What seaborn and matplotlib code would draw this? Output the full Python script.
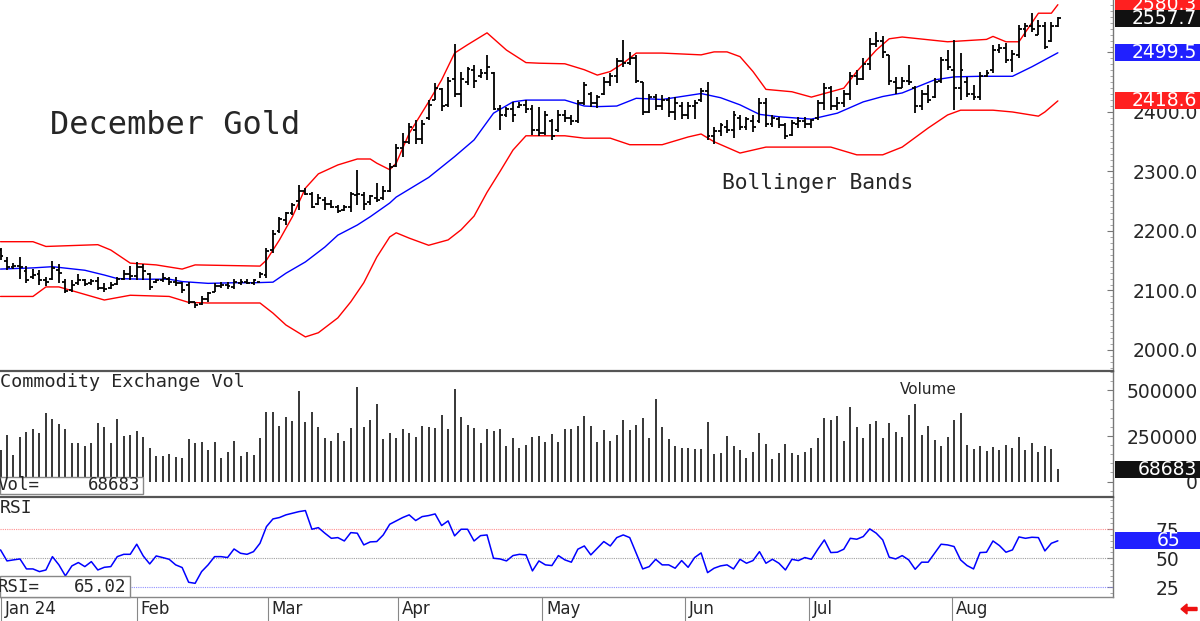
import numpy as np
import pandas as pd
import seaborn as sns
import matplotlib.pyplot as plt
from matplotlib import transforms
from matplotlib.patches import Rectangle, FancyArrow
from matplotlib.ticker import MultipleLocator

sns.set_style('white')
plt.rcParams['font.family'] = ['DejaVu Sans']
MONO = 'DejaVu Sans Mono'

# === daily bars, Dec gold (one per trading day, Jan 2 .. Aug 23 2024) ===
opens = [2168, 2150, 2140, 2142, 2132, 2122, 2127, 2118, 2120, 2135,
         2115, 2100, 2112, 2117, 2112, 2116, 2104, 2104, 2111, 2120,
         2128, 2125, 2140, 2128, 2114, 2117, 2120, 2115, 2112, 2110,
         2080, 2078, 2085, 2098, 2108, 2110, 2106, 2113, 2115, 2112,
         2115, 2126, 2168, 2200, 2218, 2230, 2250, 2268, 2262, 2246,
         2252, 2245, 2240, 2235, 2240, 2260, 2260, 2248, 2255, 2255,
         2268, 2310, 2340, 2350, 2370, 2355, 2390, 2420, 2438, 2412,
         2455, 2430, 2450, 2470, 2460, 2465, 2465, 2405, 2395, 2405,
         2408, 2412, 2405, 2370, 2365, 2385, 2370, 2395, 2390, 2385,
         2415, 2430, 2415, 2430, 2450, 2460, 2485, 2482, 2490, 2450,
         2400, 2425, 2410, 2420, 2400, 2410, 2395, 2410, 2420, 2436,
         2360, 2368, 2375, 2370, 2390, 2375, 2385, 2385, 2415, 2380,
         2388, 2378, 2362, 2380, 2385, 2380, 2390, 2415, 2440, 2410,
         2415, 2430, 2460, 2455, 2480, 2515, 2520, 2495, 2450, 2440,
         2452, 2440, 2410, 2430, 2425, 2452, 2488, 2470, 2440, 2450,
         2430, 2425, 2460, 2470, 2505, 2508, 2488, 2495, 2540, 2545,
         2530, 2545, 2520, 2545]
highs = [2172, 2157, 2146, 2157, 2141, 2136, 2134, 2123, 2150, 2145,
         2119, 2118, 2128, 2119, 2119, 2123, 2112, 2115, 2123, 2134,
         2141, 2148, 2144, 2129, 2120, 2129, 2123, 2122, 2115, 2115,
         2081, 2090, 2098, 2112, 2115, 2115, 2119, 2120, 2120, 2119,
         2131, 2171, 2202, 2224, 2232, 2247, 2277, 2272, 2265, 2263,
         2257, 2252, 2244, 2244, 2266, 2303, 2266, 2261, 2281, 2275,
         2314, 2347, 2364, 2381, 2387, 2387, 2420, 2448, 2440, 2459,
         2515, 2468, 2476, 2479, 2473, 2496, 2468, 2412, 2409, 2417,
         2417, 2420, 2412, 2409, 2401, 2389, 2403, 2403, 2395, 2420,
         2451, 2434, 2429, 2459, 2465, 2490, 2521, 2501, 2496, 2451,
         2431, 2431, 2429, 2426, 2426, 2417, 2417, 2420, 2440, 2451,
         2375, 2381, 2387, 2401, 2395, 2392, 2395, 2423, 2423, 2395,
         2392, 2381, 2387, 2392, 2392, 2389, 2420, 2448, 2443, 2426,
         2437, 2468, 2471, 2490, 2524, 2535, 2527, 2496, 2459, 2459,
         2479, 2443, 2437, 2445, 2457, 2492, 2504, 2521, 2499, 2459,
         2445, 2468, 2471, 2513, 2515, 2516, 2504, 2546, 2550, 2566,
         2555, 2551, 2551, 2560]
lows = [2152, 2134, 2136, 2120, 2113, 2119, 2110, 2108, 2118, 2113,
        2096, 2098, 2109, 2107, 2109, 2101, 2098, 2102, 2109, 2118,
        2117, 2118, 2118, 2101, 2112, 2115, 2109, 2108, 2096, 2078,
        2070, 2076, 2080, 2098, 2104, 2102, 2102, 2109, 2111, 2109,
        2121, 2121, 2163, 2197, 2210, 2227, 2235, 2260, 2238, 2244,
        2235, 2238, 2230, 2233, 2232, 2244, 2235, 2244, 2249, 2252,
        2266, 2308, 2325, 2347, 2347, 2347, 2387, 2420, 2401, 2409,
        2426, 2409, 2445, 2440, 2457, 2454, 2403, 2370, 2392, 2384,
        2406, 2398, 2361, 2359, 2361, 2353, 2367, 2384, 2378, 2381,
        2412, 2409, 2406, 2429, 2443, 2448, 2476, 2479, 2448, 2395,
        2398, 2403, 2403, 2392, 2387, 2389, 2389, 2389, 2417, 2353,
        2347, 2359, 2364, 2356, 2370, 2370, 2367, 2381, 2375, 2375,
        2373, 2354, 2359, 2373, 2373, 2373, 2387, 2403, 2403, 2403,
        2409, 2420, 2445, 2454, 2471, 2510, 2490, 2445, 2431, 2440,
        2445, 2398, 2403, 2415, 2423, 2449, 2471, 2403, 2420, 2425,
        2420, 2420, 2459, 2465, 2499, 2482, 2468, 2490, 2526, 2534,
        2529, 2506, 2518, 2543]
closes = [2158, 2140, 2142, 2139, 2118, 2126, 2117, 2114, 2138, 2130,
          2099, 2110, 2118, 2111, 2116, 2104, 2102, 2110, 2120, 2128,
          2124, 2140, 2132, 2106, 2117, 2121, 2115, 2112, 2100, 2081,
          2076, 2085, 2095, 2108, 2110, 2108, 2114, 2115, 2113, 2117,
          2128, 2166, 2195, 2220, 2230, 2243, 2268, 2262, 2240, 2255,
          2246, 2240, 2234, 2240, 2262, 2263, 2245, 2258, 2252, 2268,
          2308, 2340, 2350, 2375, 2355, 2380, 2412, 2440, 2410, 2452,
          2430, 2455, 2472, 2452, 2465, 2475, 2405, 2395, 2405, 2395,
          2412, 2405, 2370, 2365, 2395, 2360, 2395, 2390, 2385, 2415,
          2445, 2415, 2425, 2450, 2460, 2485, 2482, 2490, 2452, 2400,
          2425, 2410, 2420, 2400, 2415, 2395, 2410, 2415, 2436, 2360,
          2368, 2378, 2370, 2395, 2375, 2388, 2375, 2415, 2380, 2390,
          2378, 2360, 2382, 2385, 2380, 2386, 2415, 2440, 2410, 2415,
          2430, 2460, 2455, 2480, 2515, 2520, 2500, 2452, 2440, 2452,
          2450, 2410, 2430, 2420, 2450, 2488, 2475, 2440, 2470, 2430,
          2425, 2460, 2465, 2505, 2508, 2488, 2498, 2540, 2545, 2540,
          2545, 2510, 2545, 2557.7]

# volume in thousands of contracts
volume_k = [173, 255, 146, 243, 270, 288, 266, 375, 343, 316,
            290, 210, 210, 195, 210, 320, 298, 213, 343, 250,
            253, 277, 245, 182, 140, 140, 151, 135, 129, 232,
            210, 217, 173, 217, 129, 160, 223, 138, 160, 147,
            241, 384, 380, 307, 356, 334, 499, 329, 384, 301,
            241, 223, 266, 223, 294, 519, 298, 340, 426, 234,
            265, 237, 290, 268, 245, 307, 301, 294, 365, 287,
            508, 356, 309, 294, 213, 287, 277, 287, 195, 241,
            184, 200, 245, 248, 217, 263, 219, 287, 287, 305,
            358, 305, 219, 283, 224, 255, 340, 283, 309, 349,
            237, 451, 299, 234, 193, 186, 186, 180, 180, 327,
            151, 157, 250, 193, 175, 131, 162, 265, 206, 125,
            157, 206, 157, 147, 162, 186, 239, 351, 336, 362,
            224, 408, 299, 239, 314, 332, 239, 323, 270, 246,
            365, 424, 255, 305, 228, 197, 243, 336, 376, 202,
            180, 193, 168, 190, 175, 202, 186, 243, 171, 212,
            162, 195, 180, 68.683]

rsi = [57.2, 47.7, 48.6, 49.4, 40.8, 40.8, 38.5, 39.9, 51.4, 44.3,
       34.8, 43.4, 46.3, 42.8, 47.1, 39.9, 42.2, 42.8, 51.4, 53.4,
       53.4, 62.1, 52.0, 45.1, 52.0, 50.6, 49.1, 44.3, 42.0, 29.3,
       28.4, 38.5, 44.3, 51.4, 51.4, 50.6, 58.0, 54.3, 53.4, 55.7,
       62.9, 77.3, 83.9, 85.1, 87.4, 88.8, 90.2, 91.1, 75.0, 76.4,
       71.6, 67.2, 67.8, 64.9, 72.1, 71.6, 61.5, 64.1, 64.4, 70.1,
       79.3, 82.2, 85.1, 87.4, 82.5, 85.9, 86.8, 88.2, 78.2, 82.2,
       69.3, 75.0, 75.0, 64.9, 69.5, 70.1, 50.0, 49.4, 47.7, 52.3,
       53.4, 52.9, 39.1, 47.7, 44.3, 43.7, 52.3, 48.6, 46.6, 57.8,
       60.6, 52.9, 58.6, 64.4, 60.6, 67.8, 70.1, 67.8, 54.3, 40.8,
       42.8, 49.1, 44.3, 44.3, 41.4, 48.0, 42.2, 50.6, 54.6, 37.6,
       41.4, 43.4, 44.3, 40.8, 49.1, 45.7, 48.0, 55.7, 45.7, 49.1,
       45.7, 39.9, 49.1, 48.0, 50.6, 49.1, 57.8, 65.8, 54.9, 55.2,
       57.8, 67.2, 66.4, 68.7, 75.3, 71.6, 65.8, 50.9, 49.4, 52.3,
       48.6, 40.5, 46.6, 46.6, 54.3, 62.1, 61.5, 60.1, 48.6, 43.7,
       40.8, 54.9, 55.2, 64.9, 60.9, 55.2, 57.2, 68.4, 67.2, 68.1,
       67.8, 56.3, 62.9, 65.02]

# Bollinger bands, read at these bar numbers
upper_idx = [0, 5, 7, 15, 17, 20, 24, 28, 30, 40, 41, 42, 43, 45, 47, 49, 52, 55, 57, 58,
             60, 61, 63, 66, 68, 70, 72, 75, 78, 81, 83, 87, 90, 92, 94, 96, 98, 102, 108, 110,
             112, 114, 116, 118, 122, 125, 127, 130, 132, 135, 137, 139, 146, 152, 153, 155, 157, 160, 162, 163]
upper_val = [2182, 2182, 2174, 2177, 2168, 2146, 2143, 2136, 2143, 2141, 2151, 2168, 2185, 2224, 2272, 2296, 2311, 2321, 2321, 2314,
             2303, 2314, 2364, 2417, 2454, 2499, 2513, 2533, 2504, 2483, 2482, 2481, 2471, 2462, 2468, 2482, 2499, 2499, 2496, 2501,
             2501, 2493, 2468, 2438, 2434, 2425, 2431, 2440, 2468, 2504, 2523, 2526, 2518, 2522, 2527, 2518, 2518, 2566, 2566, 2580.3]
mid_idx = [0, 5, 8, 13, 16, 18, 22, 26, 28, 32, 36, 39, 42, 44, 47, 50, 52, 55, 57, 60,
           61, 66, 70, 73, 76, 79, 81, 83, 87, 90, 92, 95, 98, 102, 105, 108, 111, 114, 117, 120,
           125, 129, 133, 136, 139, 144, 147, 151, 156, 159, 163]
mid_val = [2136, 2138, 2140, 2134, 2126, 2120, 2119, 2119, 2115, 2112, 2113, 2113, 2114, 2129, 2148, 2173, 2193, 2210, 2224, 2247,
           2257, 2290, 2325, 2353, 2398, 2417, 2420, 2420, 2420, 2410, 2409, 2410, 2423, 2421, 2426, 2431, 2424, 2412, 2396, 2392,
           2388, 2398, 2417, 2426, 2432, 2454, 2459, 2460, 2460, 2476, 2499.5]
lower_idx = [0, 5, 7, 9, 16, 20, 26, 29, 32, 40, 42, 44, 47, 49, 52, 54, 56, 58, 60, 61,
             63, 66, 69, 71, 73, 75, 77, 79, 81, 87, 90, 94, 97, 102, 106, 108, 110, 114, 118, 123,
             128, 132, 136, 139, 143, 146, 148, 153, 156, 160, 161, 163]
lower_val = [2090, 2090, 2106, 2106, 2084, 2092, 2090, 2080, 2079, 2079, 2062, 2042, 2022, 2029, 2054, 2081, 2113, 2156, 2190, 2197,
             2188, 2176, 2185, 2202, 2225, 2265, 2300, 2336, 2360, 2360, 2356, 2356, 2345, 2345, 2358, 2363, 2350, 2331, 2341, 2341,
             2341, 2328, 2328, 2341, 2373, 2395, 2403, 2403, 2400, 2393, 2400, 2418.6]

month_pos = [0, 21.0, 41.2, 61.3, 83.5, 105.5, 124.6, 146.7]
month_lab = ['Jan 24', 'Feb', 'Mar', 'Apr', 'May', 'Jun', 'Jul', 'Aug']

df = pd.DataFrame({'day': np.arange(len(closes)), 'open': opens, 'high': highs,
                   'low': lows, 'close': closes,
                   'vol': np.array(volume_k) * 1000, 'rsi': rsi})

# === layout (pixels) ===
W, H = 1200, 621
fig = plt.figure(figsize=(W / 100, H / 100), dpi=100)


def panel(top, bottom):
    return fig.add_axes([0, 1 - bottom / H, 1113 / W, (bottom - top) / H])


ax_p = panel(0, 371)
ax_v = panel(371, 497)
ax_r = panel(497, 597)

# === price bars + bollinger bands ===
ax_p.vlines(df['day'], df['low'], df['high'], color='black', lw=1.3, zorder=3)
ax_p.hlines(df['open'], df['day'] - 0.45, df['day'], color='black', lw=1.3, zorder=3)
ax_p.hlines(df['close'], df['day'], df['day'] + 0.45, color='black', lw=1.3, zorder=3)
sns.lineplot(x=upper_idx, y=upper_val, ax=ax_p, color='#ff0000', lw=1.0, zorder=2)
sns.lineplot(x=lower_idx, y=lower_val, ax=ax_p, color='#ff0000', lw=1.0, zorder=2)
sns.lineplot(x=mid_idx, y=mid_val, ax=ax_p, color='#0000ff', lw=1.0, zorder=2)
ax_p.set_ylim(1964.7, 2588.2)
ax_p.set_yticks(range(2000, 2501, 100))
ax_p.set_yticklabels([f'{v:.1f}' for v in range(2000, 2501, 100)])
ax_p.yaxis.set_minor_locator(MultipleLocator(10))

# === volume ===
ax_v.vlines(df['day'], 0, df['vol'], color='black', lw=1.1)
ax_v.set_ylim(-85000, 607000)
ax_v.set_yticks([0, 250000, 500000])
ax_v.set_yticklabels(['0', '250000', '500000'])
ax_v.yaxis.set_minor_locator(MultipleLocator(50000))

# === RSI ===
ax_r.axhline(75, color='#ff9090', ls=(0, (1, 1)), lw=0.8)
ax_r.axhline(50, color='#a0a0a0', ls=(0, (1, 1)), lw=0.8)
ax_r.axhline(25, color='#9090ff', ls=(0, (1, 1)), lw=0.8)
sns.lineplot(data=df, x='day', y='rsi', ax=ax_r, color='#0000ff', lw=1.1)
ax_r.set_ylim(16.6, 102.8)
ax_r.set_yticks([25, 50, 75])
ax_r.set_yticklabels(['25', '50', '75'])
ax_r.yaxis.set_minor_locator(MultipleLocator(5))

for ax, pad in ((ax_p, 61), (ax_v, 61), (ax_r, 48)):
    ax.set_xlim(-0.08, 171.5)
    ax.set_xlabel('')
    ax.set_ylabel('')
    ax.set_xticks([])
    ax.yaxis.tick_right()
    for s in ('left', 'top', 'bottom'):
        ax.spines[s].set_visible(False)
    ax.spines['right'].set_color('#777777')
    ax.spines['right'].set_linewidth(1.0)
    ax.tick_params(axis='y', which='major', direction='in', length=4.5, width=0.8,
                   color='#777777', labelsize=13.5, pad=pad)
    ax.tick_params(axis='y', which='minor', direction='in', length=2, width=0.6, color='#999999')
    for t in ax.yaxis.get_major_ticks():
        t.label2.set_horizontalalignment('right')

for ax in (ax_v, ax_r):
    ax.spines['top'].set_visible(True)
    ax.spines['top'].set_color('#555555')
    ax.spines['top'].set_linewidth(1.6)
ax_r.spines['bottom'].set_visible(True)
ax_r.spines['bottom'].set_color('#888888')
ax_r.spines['bottom'].set_linewidth(1.0)

# month strip under the RSI panel
strip = transforms.blended_transform_factory(ax_r.transData, ax_r.transAxes)
for pos, lab in zip(month_pos, month_lab):
    ax_r.plot([pos, pos], [0, -0.24], transform=strip, color='#888888', lw=0.8, clip_on=False)
    ax_r.text(pos + 0.6, -0.125, lab, transform=strip, ha='left', va='center', fontsize=12)

# === texts ===
fig.text(50 / W, 1 - 125 / H, 'December Gold', fontsize=23, family=MONO, va='center')
fig.text(722 / W, 1 - 183 / H, 'Bollinger Bands', fontsize=15.3, family=MONO, va='center')
fig.text(0, 1 - 382 / H, 'Commodity Exchange Vol', fontsize=13.3, family=MONO, va='center')
fig.text(900 / W, 1 - 390 / H, 'Volume', fontsize=11, va='center')
fig.text(0, 1 - 508 / H, 'RSI', fontsize=13, family=MONO, va='center')

# read-out boxes at the bottom left of the panels
fig.add_artist(Rectangle((0, 1 - 494 / H), 143 / W, 17 / H, transform=fig.transFigure,
                         facecolor='white', edgecolor='#888888', lw=1, zorder=5))
fig.text(-2 / W, 1 - 485.5 / H, 'Vol=', fontsize=12.5, family=MONO, va='center', zorder=6)
fig.text(140 / W, 1 - 485.5 / H, '68683', fontsize=12.5, family=MONO, va='center', ha='right', zorder=6)
fig.add_artist(Rectangle((0, 1 - 597 / H), 130 / W, 21 / H, transform=fig.transFigure,
                         facecolor='white', edgecolor='#888888', lw=1, zorder=5))
fig.text(-2 / W, 1 - 586.5 / H, 'RSI=', fontsize=12.5, family=MONO, va='center', zorder=6)
fig.text(126 / W, 1 - 586.5 / H, '65.02', fontsize=12.5, family=MONO, va='center', ha='right', zorder=6)


def tag(ax, value, text, color, x_text=1197, x_left=1115):
    y = ax.transData.transform((0, value))[1]
    fig.add_artist(Rectangle((x_left / W, (y - 8.5) / H), (W - x_left) / W, 17 / H,
                             transform=fig.transFigure, facecolor=color, edgecolor='none', zorder=5))
    fig.text(x_text / W, y / H, text, color='white', ha='right', va='center', fontsize=13.5, zorder=6)


tag(ax_p, upper_val[-1], f'{upper_val[-1]:.1f}', '#ff2020')
tag(ax_p, closes[-1], f'{closes[-1]:.1f}', '#111111')
tag(ax_p, mid_val[-1], f'{mid_val[-1]:.1f}', '#2020ff')
tag(ax_p, lower_val[-1], f'{lower_val[-1]:.1f}', '#ff2020')
tag(ax_v, volume_k[-1] * 1000, f'{volume_k[-1] * 1000:.0f}', '#111111')
tag(ax_r, rsi[-1], f'{rsi[-1]:.0f}', '#2020ff', x_text=1180)

fig.add_artist(FancyArrow(1197, 12, -10, 0, width=3, head_width=10, head_length=6,
                          color='#ee1111', transform=transforms.IdentityTransform()))

fig.savefig('out.png', dpi=100)
